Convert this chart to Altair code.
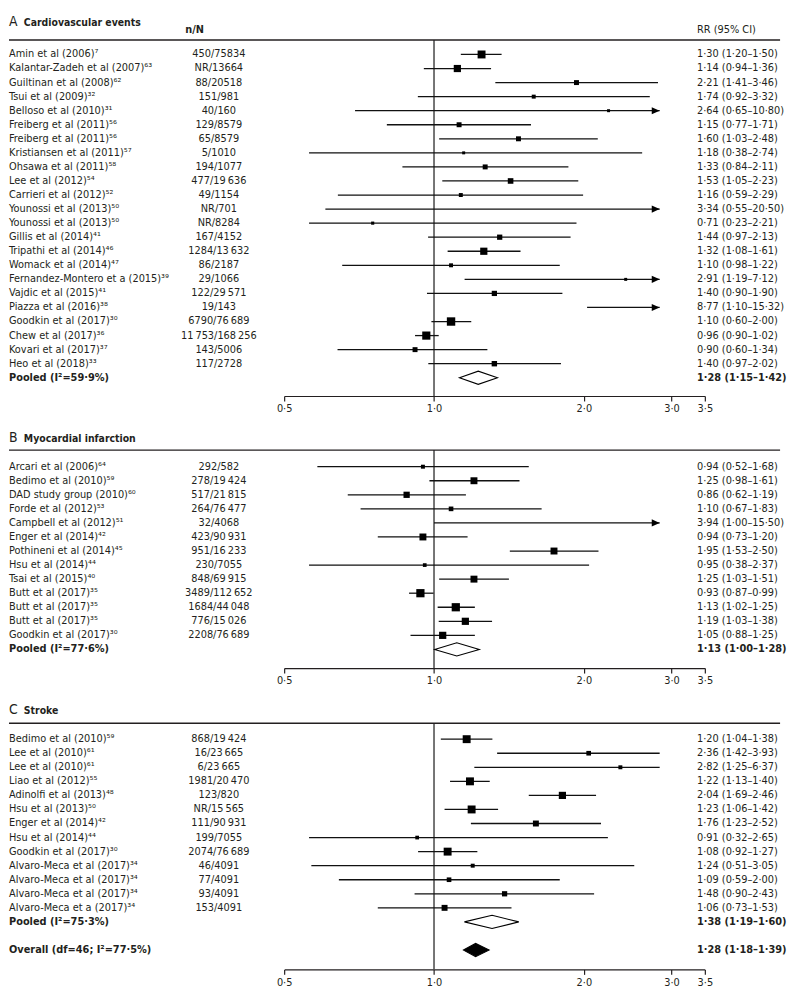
import altair as alt
import pandas as pd

FONT = "'Liberation Sans Narrow', 'Arial Narrow', 'DejaVu Sans Condensed', sans-serif"
INK = "#231f20"
W = 779
ROW = 14.2
X0, X1 = 278, 703
COL_NN = 212
COL_RR = 695

SUP = str.maketrans("0123456789", "⁰¹²³⁴⁵⁶⁷⁸⁹")


def sup(n):
    return str(n).translate(SUP)


T = "\u2009"

# ---------------- Panel A: cardiovascular events ----------------
a_study = ["Amin et al (2006)", "Kalantar-Zadeh et al (2007)", "Guiltinan et al (2008)", "Tsui et al (2009)",
           "Belloso et al (2010)", "Freiberg et al (2011)", "Freiberg et al (2011)", "Kristiansen et al (2011)",
           "Ohsawa et al (2011)", "Lee et al (2012)", "Carrieri et al (2012)", "Younossi et al (2013)",
           "Younossi et al (2013)", "Gillis et al (2014)", "Tripathi et al (2014)", "Womack et al (2014)",
           "Fernandez-Montero et a (2015)", "Vajdic et al (2015)", "Piazza et al (2016)", "Goodkin et al (2017)",
           "Chew et al (2017)", "Kovari et al (2017)", "Heo et al (2018)"]
a_ref = [7, 63, 62, 32, 31, 56, 56, 57, 58, 54, 52, 50, 50, 41, 46, 47, 39, 41, 38, 30, 36, 37, 33]
a_nn = ["450/75834", "NR/13664", "88/20518", "151/981", "40/160", "129/8579", "65/8579", "5/1010", "194/1077",
        "477/19" + T + "636", "49/1154", "NR/701", "NR/8284", "167/4152", "1284/13" + T + "632", "86/2187",
        "29/1066", "122/29" + T + "571", "19/143", "6790/76" + T + "689", "11" + T + "753/168" + T + "256",
        "143/5006", "117/2728"]
a_rr = ["1·30 (1·20–1·50)", "1·14 (0·94–1·36)", "2·21 (1·41–3·46)", "1·74 (0·92–3·32)", "2·64 (0·65–10·80)",
        "1·15 (0·77–1·71)", "1·60 (1·03–2·48)", "1·18 (0·38–2·74)", "1·33 (0·84–2·11)", "1·53 (1·05–2·23)",
        "1·16 (0·59–2·29)", "3·34 (0·55–20·50)", "0·71 (0·23–2·21)", "1·44 (0·97–2·13)", "1·32 (1·08–1·61)",
        "1·10 (0·98–1·22)", "2·91 (1·19–7·12)", "1·40 (0·90–1·90)", "8·77 (1·10–15·32)", "1·10 (0·60–2·00)",
        "0·96 (0·90–1·02)", "0·90 (0·60–1·34)", "1·40 (0·97–2·02)"]
# positions as drawn in the figure
a_lo = [1.132, 0.954, 1.328, 0.928, 0.694, 0.804, 1.024, 0.561, 0.864, 1.039, 0.641, 0.605, 0.561, 0.973,
        1.065, 0.654, 1.152, 0.968, 2.03, 0.988, 0.916, 0.64, 0.974]
a_est = [1.246, 1.114, 1.933, 1.586, 2.242, 1.123, 1.478, 1.147, 1.267, 1.425, 1.132, 3.34, 0.753, 1.355,
         1.259, 1.082, 2.427, 1.322, 8.77, 1.082, 0.965, 0.916, 1.322]
a_hi = [1.367, 1.302, 2.818, 2.713, 2.84, 1.566, 2.133, 2.619, 1.862, 1.949, 1.993, 2.84, 1.933, 1.881,
        1.492, 1.789, 2.84, 1.811, 2.84, 1.188, 1.022, 1.28, 1.799]
a_wt = [64, 53, 25, 16, 9, 25, 25, 9, 25, 32, 16, 0, 10, 28, 53, 16, 9, 28, 0, 72, 68, 25, 30]
a_arrow = [0, 0, 0, 0, 1, 0, 0, 0, 0, 0, 0, 1, 0, 0, 0, 0, 1, 0, 1, 0, 0, 0, 0]
a_sum_label = ["Pooled (I²=59·9%)"]
a_sum_rr = ["1·28 (1·15–1·42)"]
a_sum_lo = [1.125]
a_sum_est = [1.227]
a_sum_hi = [1.341]

# ---------------- Panel B: myocardial infarction ----------------
b_study = ["Arcari et al (2006)", "Bedimo et al (2010)", "DAD study group (2010)", "Forde et al (2012)",
           "Campbell et al (2012)", "Enger et al (2014)", "Pothineni et al (2014)", "Hsu et al (2014)",
           "Tsai et al (2015)", "Butt et al (2017)", "Butt et al (2017)", "Butt et al (2017)",
           "Goodkin et al (2017)"]
b_ref = [64, 59, 60, 53, 51, 42, 45, 44, 40, 35, 35, 35, 30]
b_nn = ["292/582", "278/19" + T + "424", "517/21" + T + "815", "264/76" + T + "477", "32/4068",
        "423/90" + T + "931", "951/16" + T + "233", "230/7055", "848/69" + T + "915", "3489/112" + T + "652",
        "1684/44" + T + "048", "776/15" + T + "026", "2208/76" + T + "689"]
b_rr = ["0·94 (0·52–1·68)", "1·25 (0·98–1·61)", "0·86 (0·62–1·19)", "1·10 (0·67–1·83)", "3·94 (1·00–15·50)",
        "0·94 (0·73–1·20)", "1·95 (1·53–2·50)", "0·95 (0·38–2·37)", "1·25 (1·03–1·51)", "0·93 (0·87–0·99)",
        "1·13 (1·02–1·25)", "1·19 (1·03–1·38)", "1·05 (0·88–1·25)"]
b_lo = [0.583, 0.979, 0.671, 0.712, 1.0, 0.771, 1.42, 0.561, 1.024, 0.891, 1.017, 1.022, 0.897]
b_est = [0.950, 1.203, 0.881, 1.082, 3.94, 0.950, 1.742, 0.958, 1.203, 0.939, 1.106, 1.156, 1.041]
b_hi = [1.55, 1.485, 1.159, 1.645, 2.84, 1.168, 2.14, 2.049, 1.414, 0.998, 1.208, 1.308, 1.208]
b_wt = [16, 49, 40, 22, 0, 49, 49, 14, 49, 69, 69, 53, 53]
b_arrow = [0, 0, 0, 0, 1, 0, 0, 0, 0, 0, 0, 0, 0]
b_sum_label = ["Pooled (I²=77·6%)"]
b_sum_rr = ["1·13 (1·00–1·28)"]
b_sum_lo = [1.003]
b_sum_est = [1.111]
b_sum_hi = [1.233]

# ---------------- Panel C: stroke ----------------
c_study = ["Bedimo et al (2010)", "Lee et al (2010)", "Lee et al (2010)", "Liao et al (2012)",
           "Adinolfi et al (2013)", "Hsu et al (2013)", "Enger et al (2014)", "Hsu et al (2014)",
           "Goodkin et al (2017)", "Alvaro-Meca et al (2017)", "Alvaro-Meca et al (2017)",
           "Alvaro-Meca et al (2017)", "Alvaro-Meca et a (2017)"]
c_ref = [59, 61, 61, 55, 48, 50, 42, 44, 30, 34, 34, 34, 34]
c_nn = ["868/19" + T + "424", "16/23" + T + "665", "6/23" + T + "665", "1981/20" + T + "470", "123/820",
        "NR/15" + T + "565", "111/90" + T + "931", "199/7055", "2074/76" + T + "689", "46/4091", "77/4091",
        "93/4091", "153/4091"]
c_rr = ["1·20 (1·04–1·38)", "2·36 (1·42–3·93)", "2·82 (1·25–6·37)", "1·22 (1·13–1·40)", "2·04 (1·69–2·46)",
        "1·23 (1·06–1·42)", "1·76 (1·23–2·52)", "0·91 (0·32–2·65)", "1·08 (0·92–1·27)", "1·24 (0·51–3·05)",
        "1·09 (0·59–2·00)", "1·48 (0·90–2·43)", "1·06 (0·73–1·53)"]
c_lo = [1.032, 1.339, 1.205, 1.077, 1.55, 1.05, 1.186, 0.561, 0.929, 0.567, 0.644, 0.914, 0.771]
c_est = [1.163, 2.045, 2.368, 1.181, 1.811, 1.19, 1.602, 0.925, 1.065, 1.196, 1.072, 1.386, 1.05]
c_hi = [1.31, 2.84, 2.84, 1.294, 2.116, 1.345, 2.165, 2.235, 1.222, 2.525, 1.789, 2.097, 1.431]
c_wt = [64, 22, 16, 64, 53, 64, 36, 14, 64, 16, 22, 28, 36]
c_arrow = [0] * 13
c_sum_label = ["Pooled (I²=75·3%)", "Overall (df=46; I²=77·5%)"]
c_sum_rr = ["1·38 (1·19–1·60)", "1·28 (1·18–1·39)"]
c_sum_lo = [1.151, 1.146]
c_sum_est = [1.308, 1.212]
c_sum_hi = [1.48, 1.29]

ARROW = "M-1,-0.9L1,0L-1,0.9Z"
xscale = alt.Scale(type="log", domain=[0.5, 3.5], range=[X0, X1], nice=False)
AXIS = alt.Axis(values=[0.5, 1, 2, 3, 3.5],
                labelExpr="replace(format(datum.value, '.1f'), '.', '·')",
                title=None, grid=False, domainColor=INK, tickColor=INK, domainWidth=1.2, tickWidth=1.2,
                tickSize=5, labelFont=FONT, labelFontSize=11, labelColor=INK, labelPadding=2,
                labelFlush=False, labelOverlap=False, orient="bottom")


def panel(letter, title, studies, refs, nn, rr, lo, est, hi, wt, arrow,
          s_label, s_rr, s_lo, s_est, s_hi, s_rows, s_fill,
          top, bottom, title_row, rule_row, headers):
    yscale = alt.Scale(domain=[top, bottom], reverse=True, nice=False, zero=False)
    height = (bottom - top) * ROW

    def Y(f):
        return alt.Y(f, type="quantitative", scale=yscale, axis=None)

    def X(f):
        return alt.X(f, type="quantitative", scale=xscale, axis=AXIS)

    df = pd.DataFrame({"row": list(range(len(studies))),
                       "label": [s + sup(r) for s, r in zip(studies, refs)],
                       "nn": nn, "rr": rr, "lo": lo, "est": est, "hi": hi, "wt": wt, "arrow": arrow})
    sdf = pd.DataFrame({"row": s_rows, "label": s_label, "rr": s_rr, "lo": s_lo, "est": s_est,
                        "hi": s_hi, "fill": s_fill})
    hh = 0.47
    drows = []
    for i in range(len(sdf)):
        r = sdf.iloc[i]
        drows.append({"id": i, "x": r["lo"], "y": r["row"], "y2": r["row"], "fill": r["fill"]})
        drows.append({"id": i, "x": r["est"], "y": r["row"] - hh, "y2": r["row"] + hh, "fill": r["fill"]})
        drows.append({"id": i, "x": r["hi"], "y": r["row"], "y2": r["row"], "fill": r["fill"]})
    ddf = pd.DataFrame(drows)
    gdf = pd.DataFrame({"one": [1.0], "y1": [rule_row], "y2": [bottom], "t": [title_row]})

    vline = alt.Chart(gdf).mark_rule(color="#3a3a3a", strokeWidth=1.4).encode(
        x=X("one"), y=Y("y1"), y2="y2:Q")
    hrule = alt.Chart(gdf).mark_rule(color=INK, strokeWidth=1.4).encode(
        x=alt.value(0), x2=alt.value(W), y=Y("y1"))
    base = alt.Chart(df)
    ci = base.mark_rule(color="#111111", strokeWidth=1.3).encode(x=X("lo"), x2="hi:Q", y=Y("row"))
    sq = base.transform_filter("datum.wt > 0 && datum.est <= 2.84").mark_square(
        color="black", opacity=1, filled=True).encode(
        x=X("est"), y=Y("row"),
        size=alt.Size("wt:Q", scale=alt.Scale(domain=[0, 100], range=[0, 100]), legend=None))
    arr = base.transform_filter("datum.arrow == 1").mark_point(
        shape=ARROW, filled=True, color="black", opacity=1, size=64, xOffset=-4).encode(
        x=X("hi"), y=Y("row"))
    dia = alt.Chart(ddf).mark_area(stroke="black", strokeWidth=1.1, fillOpacity=1).encode(
        x=X("x"), y=Y("y"), y2="y2:Q", fill=alt.Fill("fill:N", scale=None), detail="id:N")

    tprops = dict(baseline="middle", font=FONT, fontSize=11, color=INK)
    lab = base.mark_text(align="left", **tprops).encode(x=alt.value(0), y=Y("row"), text="label:N")
    nnt = base.mark_text(align="center", **tprops).encode(x=alt.value(COL_NN), y=Y("row"), text="nn:N")
    rrt = base.mark_text(align="left", **tprops).encode(x=alt.value(COL_RR), y=Y("row"), text="rr:N")
    slab = alt.Chart(sdf).mark_text(align="left", fontWeight="bold", **tprops).encode(
        x=alt.value(0), y=Y("row"), text="label:N")
    srr = alt.Chart(sdf).mark_text(align="left", fontWeight="bold", **tprops).encode(
        x=alt.value(COL_RR), y=Y("row"), text="rr:N")
    tl = alt.Chart(gdf).mark_text(align="left", baseline="alphabetic", font=FONT, fontSize=14, color=INK,
                                  text=letter).encode(x=alt.value(0), y=Y("t"))
    tt = alt.Chart(gdf).mark_text(align="left", baseline="alphabetic", font=FONT, fontSize=10.5,
                                  fontWeight="bold", color=INK, text=title).encode(x=alt.value(15), y=Y("t"))
    layers = [vline, hrule, ci, sq, arr, dia, lab, nnt, rrt, slab, srr, tl, tt]
    if headers:
        hdf = pd.DataFrame({"h": [headers[0]], "row": [headers[1]]})
        h1 = alt.Chart(hdf).mark_text(align="left", fontWeight="bold", text="n/N", **tprops).encode(
            x=alt.value(178), y=Y("row"))
        h2 = alt.Chart(hdf).mark_text(align="left", text="RR (95% CI)", **tprops).encode(
            x=alt.value(COL_RR), y=Y("row"))
        layers += [h1, h2]
    return alt.layer(*layers).properties(width=W, height=height)


pa = panel("A", "Cardiovascular events", a_study, a_ref, a_nn, a_rr, a_lo, a_est, a_hi, a_wt, a_arrow,
           a_sum_label, a_sum_rr, a_sum_lo, a_sum_est, a_sum_hi, [23], ["white"],
           -2.95, 24.3, -2.035, -1.03, ("hdr", -1.72))
pb = panel("B", "Myocardial infarction", b_study, b_ref, b_nn, b_rr, b_lo, b_est, b_hi, b_wt, b_arrow,
           b_sum_label, b_sum_rr, b_sum_lo, b_sum_est, b_sum_hi, [13], ["white"],
           -2.63, 14.33, -1.765, -1.18, None)
pc = panel("C", "Stroke", c_study, c_ref, c_nn, c_rr, c_lo, c_est, c_hi, c_wt, c_arrow,
           c_sum_label, c_sum_rr, c_sum_lo, c_sum_est, c_sum_hi, [13, 15], ["white", "black"],
           -2.65, 16.38, -1.785, -1.13, None)

chart = alt.vconcat(pa, pb, pc, spacing=16).properties(padding=0).configure_view(stroke=None)
chart.save("out.html", embed_options={"renderer": "svg", "actions": False})
